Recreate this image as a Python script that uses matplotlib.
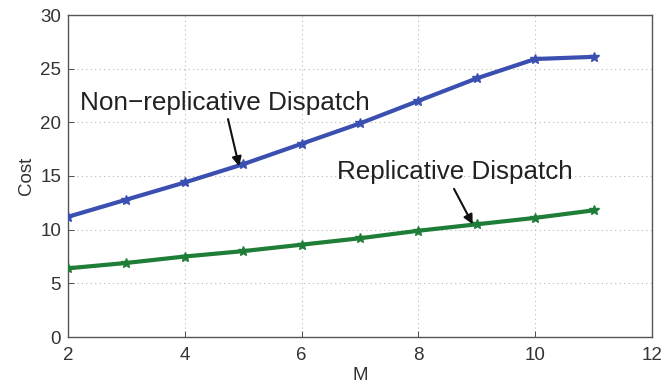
import matplotlib
matplotlib.use("Agg")
import matplotlib.pyplot as plt

M = [2, 3, 4, 5, 6, 7, 8, 9, 10, 11]
non_replicative = [11.2, 12.8, 14.4, 16.1, 18.0, 19.9, 22.0, 24.1, 25.9, 26.1]
replicative = [6.4, 6.9, 7.5, 8.0, 8.6, 9.2, 9.9, 10.5, 11.1, 11.8]
xticks = [2, 4, 6, 8, 10, 12]
yticks = [0, 5, 10, 15, 20, 25, 30]

plt.rcParams['font.family'] = ['Liberation Sans', 'DejaVu Sans']

fig = plt.figure(figsize=(6.65, 3.86), dpi=100)
ax = fig.add_axes([68/665, 1 - 337/386, (652-68)/665, (337-15)/386])

ax.plot(M, non_replicative, color='#3b4fb0', lw=3, marker='*', ms=7, zorder=3)
ax.plot(M, replicative, color='#1e7d36', lw=3, marker='*', ms=7, zorder=3)

ax.set_xlim(2, 12)
ax.set_ylim(0, 30)
ax.set_xticks(xticks)
ax.set_yticks(yticks)
ax.grid(True, linestyle=(0, (1, 3)), color='#b8b8b8', lw=0.8)
ax.tick_params(direction='in', labelsize=13.5, colors='#333333', length=4, width=0.6)
ax.tick_params(axis='x', pad=7)
ax.tick_params(axis='y', pad=5)
for s in ax.spines.values():
    s.set_color('#555555')
    s.set_linewidth(1.0)

ax.set_xlabel('M', fontsize=13.5, color='#333333', labelpad=2)
ax.set_ylabel('Cost', fontsize=13.5, color='#333333', labelpad=4)

ax.text(2.2, 21.8, 'Non\u2212replicative Dispatch', fontsize=18.8, color='#222222',
        va='center', ha='left')
ax.annotate('', xy=(4.93, 15.9), xytext=(4.74, 20.3),
            arrowprops=dict(arrowstyle='-|>', color='#111111', lw=1.5,
                            shrinkA=0, shrinkB=0, mutation_scale=14))
ax.text(6.6, 15.35, 'Replicative Dispatch', fontsize=18.7, color='#222222',
        va='center', ha='left')
ax.annotate('', xy=(8.93, 10.5), xytext=(8.61, 13.8),
            arrowprops=dict(arrowstyle='-|>', color='#111111', lw=1.5,
                            shrinkA=0, shrinkB=0, mutation_scale=14))

fig.savefig('out.png', dpi=100)
